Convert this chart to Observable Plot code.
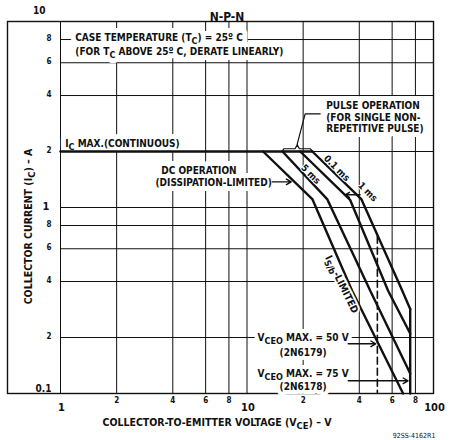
<!DOCTYPE html>
<html>
<head>
<meta charset="utf-8">
<script src="https://cdn.jsdelivr.net/npm/d3@7"></script>
<script src="https://cdn.jsdelivr.net/npm/@observablehq/plot@0.6"></script>
<style>
  html, body { margin: 0; padding: 0; background: #fff; }
  #chart svg { display: block; }
</style>
</head>
<body>
<div id="chart"></div>
<script>
// ---------- data ----------
// Collector-emitter voltage (V) and collector current (A) along each boundary
const icMaxV   = [1, 22.4];
const icMaxI   = [2, 2];
const dcV      = [12.2, 22.4, 36.6, 68.7];
const dcI      = [2, 1.11, 0.357, 0.1];
const ms5V     = [15.5, 26.9, 45.8, 75];
const ms5I     = [2, 1.11, 0.357, 0.128];
const ms1V     = [19.3, 35.7, 57.1, 75];
const ms1I     = [2, 1.10, 0.357, 0.21];
const ms01V    = [22.4, 41, 66.2, 75];
const ms01I    = [2, 1.11, 0.38, 0.285];
const vceo75V  = [75, 75];
const vceo75I  = [0.285, 0.1];
const vceo50V  = [50, 50];
const vceo50I  = [0.70, 0.1];

// grid & tick labels
const xGrid        = [1, 2, 4, 6, 8, 10, 20, 40, 60, 80, 100];
const yGrid        = [0.1, 0.2, 0.4, 0.6, 0.8, 1, 2, 4, 6, 8, 10];
const xMinorTicks  = [2, 4, 6, 8, 20, 40, 60, 80];
const xMinorLabels = ["2", "4", "6", "8", "2", "4", "6", "8"];
const xMajorTicks  = [1, 10, 100];
const xMajorLabels = ["1", "10", "100"];
const yMinorTicks  = [8, 6, 4, 2, 0.8, 0.6, 0.4, 0.2];
const yMinorLabels = ["8", "6", "4", "2", "8", "6", "4", "2"];
const yMajorTicks  = [10, 1, 0.1];
const yMajorLabels = ["10", "1", "0.1"];

// texts
const titleText  = "N-P-N";
const xTitle     = "COLLECTOR-TO-EMITTER VOLTAGE (V_{CE}) – V";
const yTitle     = "COLLECTOR CURRENT (I_{C}) – A";
const footText   = "92SS-4162R1";

// annotations anchored in data coordinates
const notesLeft = [
  {v: 1.20, i: 8.17, t: "CASE TEMPERATURE (T_{C}) = 25º C"},
  {v: 1.20, i: 6.87, t: "(FOR T_{C} ABOVE 25º C, DERATE LINEARLY)"},
  {v: 26.6, i: 3.52, t: "PULSE OPERATION"},
  {v: 26.6, i: 3.05, t: "(FOR SINGLE NON-"},
  {v: 26.6, i: 2.64, t: "REPETITIVE PULSE)"},
  {v: 1.06, i: 2.20, t: "I_{C} MAX.(CONTINUOUS)"},
  {v: 3.47, i: 1.575, t: "DC OPERATION"},
  {v: 3.23, i: 1.357, t: "(DISSIPATION-LIMITED)"}
];
const notesMid = [
  {v: 20, i: 0.199, t: "V_{CEO} MAX. = 50 V"},
  {v: 20, i: 0.1655, t: "(2N6179)"},
  {v: 20, i: 0.1276, t: "V_{CEO} MAX. = 75 V"},
  {v: 20, i: 0.1086, t: "(2N6178)"}
];
const notesDiag = [
  {v: 21.97, i: 1.508, t: "5 ms"},
  {v: 30.3, i: 1.625, t: "0.1 ms"},
  {v: 44.4, i: 1.214, t: "1 ms"}
];
const notesSb = [{v: 32.2, i: 0.386, t: "I_{S/b}-LIMITED"}];

const arrows = [
  {v1: 13.66, i1: 1.374, v2: 17.27, i2: 1.374},  // DC operation
  {v1: 40.4,  i1: 1.17,  v2: 33.6,  i2: 1.17},   // 1 ms
  {v1: 34.9,  i1: 0.185, v2: 49.0,  i2: 0.185},  // 50 V
  {v1: 34.9,  i1: 0.117, v2: 73.0,  i2: 0.117}   // 75 V
];
// pulse-operation leader and brace
const braceV = [24.7, 20.5, 18.6, 18.6];
const braceI = [3.19, 3.19, 2.20, 2.17];
const brace2V = [15.5, 15.8, 18.1, 18.6, 19.1, 21.8, 22.4];
const brace2I = [2.02, 2.07, 2.07, 2.17, 2.07, 2.07, 2.02];

// ---------- build tables ----------
const series = [
  {name: "icmax", v: icMaxV, i: icMaxI},
  {name: "dc", v: dcV, i: dcI},
  {name: "5ms", v: ms5V, i: ms5I},
  {name: "1ms", v: ms1V, i: ms1I},
  {name: "0.1ms", v: ms01V, i: ms01I},
  {name: "vceo75", v: vceo75V, i: vceo75I}
];
const rows = series.flatMap(s => s.v.map((v, k) => ({series: s.name, v, i: s.i[k]})));
const dashRows = vceo50V.map((v, k) => ({v, i: vceo50I[k]}));
const leader = braceV.map((v, k) => ({g: "a", v, i: braceI[k]}))
  .concat(brace2V.map((v, k) => ({g: "b", v, i: brace2I[k]})));

const FONT = "'Liberation Sans Narrow', 'DejaVu Sans Condensed', 'Liberation Sans', Arial, sans-serif";
const INK = "#111";

// halo layer (white) drawn under a text layer (black)
function haloText(data, opts, width) {
  return [
    Plot.text(data, {...opts, fill: "#fff", stroke: "#fff", strokeWidth: width, strokeLinejoin: "round"}),
    Plot.text(data, {...opts, fill: INK})
  ];
}

const chart = Plot.plot({
  width: 450,
  height: 440,
  marginLeft: 60,
  marginRight: 17,
  marginTop: 21,
  marginBottom: 47,
  x: {type: "log", domain: [1, 100], axis: null},
  y: {type: "log", domain: [0.1, 10], axis: null},
  style: {fontFamily: FONT, background: "#fff", color: INK, overflow: "visible"},
  marks: [
    Plot.ruleX(xGrid, {stroke: INK, strokeWidth: 1}),
    Plot.ruleY(yGrid, {stroke: INK, strokeWidth: 1}),
    Plot.frame({stroke: INK, strokeWidth: 1.4, insetLeft: -53}),
    // tick labels
    Plot.text(xMinorTicks, {x: d => d, frameAnchor: "bottom", dy: 9, text: (d, k) => xMinorLabels[k], fontSize: 8, fontWeight: "bold"}),
    Plot.text(xMajorTicks, {x: d => d, frameAnchor: "bottom", dy: 17, dx: 1, text: (d, k) => xMajorLabels[k], fontSize: 11, fontWeight: "bold"}),
    Plot.text(yMinorTicks, {y: d => d, frameAnchor: "left", dx: -9, dy: -1, textAnchor: "end", text: (d, k) => yMinorLabels[k], fontSize: 8, fontWeight: "bold"}),
    Plot.text([yMajorTicks[0]], {y: d => d, frameAnchor: "left", dx: -15, dy: -11, textAnchor: "end", text: () => yMajorLabels[0], fontSize: 10, fontWeight: "bold"}),
    Plot.text([yMajorTicks[1]], {y: d => d, frameAnchor: "left", dx: -11, dy: -1, textAnchor: "end", text: () => yMajorLabels[1], fontSize: 11, fontWeight: "bold"}),
    Plot.text([yMajorTicks[2]], {y: d => d, frameAnchor: "left", dx: -9, dy: -5, textAnchor: "end", text: () => yMajorLabels[2], fontSize: 10, fontWeight: "bold"}),
    // titles
    Plot.text([titleText], {frameAnchor: "top", dx: -20, dy: -9, text: d => d, fontSize: 12, fontWeight: "bold"}),
    Plot.text([xTitle], {frameAnchor: "bottom", dx: -30, dy: 32, textAnchor: "middle", text: d => d, fontSize: 10.5, fontWeight: "bold"}),
    Plot.text([yTitle], {frameAnchor: "left", dx: -32, dy: 19, rotate: -90, textAnchor: "middle", text: d => d, fontSize: 10.5, fontWeight: "bold"}),
    Plot.text([footText], {frameAnchor: "bottom-right", dx: 2, dy: 44, textAnchor: "end", text: d => d, fontSize: 7}),
    // annotations with white halo
    ...haloText(notesLeft, {x: "v", y: "i", text: "t", textAnchor: "start", fontSize: 10, fontWeight: "bold"}, 10),
    ...haloText(notesMid, {x: "v", y: "i", text: "t", textAnchor: "middle", fontSize: 10, fontWeight: "bold"}, 8),
    // curves
    Plot.line(dashRows, {x: "v", y: "i", stroke: INK, strokeWidth: 1.6, strokeDasharray: "7,4"}),
    Plot.line(rows, {x: "v", y: "i", z: "series", stroke: INK, strokeWidth: 2.4, strokeLinejoin: "miter"}),
    Plot.line(leader, {x: "v", y: "i", z: "g", stroke: INK, strokeWidth: 1.2}),
    Plot.arrow(arrows, {x1: "v1", y1: "i1", x2: "v2", y2: "i2", stroke: INK, strokeWidth: 1.4, headLength: 6}),
    ...haloText(notesDiag, {x: "v", y: "i", text: "t", rotate: 45, fontSize: 9.5, fontWeight: "bold"}, 2),
    ...haloText(notesSb, {x: "v", y: "i", text: "t", rotate: 64, fontSize: 10, fontWeight: "bold"}, 4)
  ]
});

// subscripts written as _{...}
function applySubscripts(root) {
  const NS = "http://www.w3.org/2000/svg";
  root.querySelectorAll("text").forEach(t => {
    const targets = t.querySelector("tspan") ? [...t.querySelectorAll("tspan")] : [t];
    targets.forEach(el => {
      const s = el.textContent;
      if (!s.includes("_{")) return;
      el.textContent = "";
      let shifted = false;
      s.split(/(_\{[^}]*\})/).forEach(p => {
        if (!p) return;
        const sp = document.createElementNS(NS, "tspan");
        if (p.startsWith("_{")) {
          sp.textContent = p.slice(2, -1);
          sp.setAttribute("dy", "3");
          sp.setAttribute("font-size", "0.9em");
          shifted = true;
        } else {
          sp.textContent = p;
          if (shifted) { sp.setAttribute("dy", "-3"); shifted = false; }
        }
        el.appendChild(sp);
      });
    });
  });
}
applySubscripts(chart);
document.getElementById("chart").appendChild(chart);
</script>
</body>
</html>
